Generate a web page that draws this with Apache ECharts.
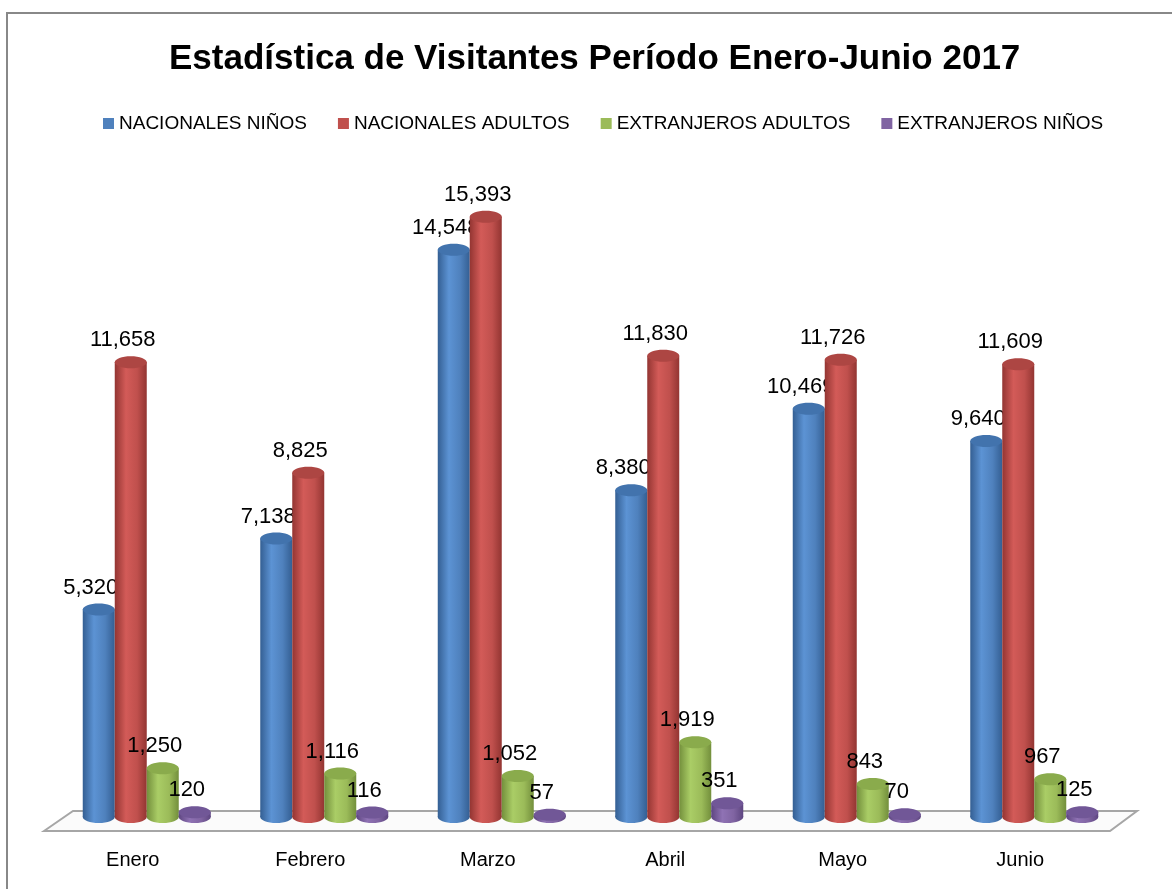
<!DOCTYPE html>
<html>
<head>
<meta charset="utf-8">
<script src="https://cdn.jsdelivr.net/npm/echarts@6/dist/echarts.min.js"></script>
<style>
  html, body { margin: 0; padding: 0; background: #fff; }
  #chart { width: 1172px; height: 889px; }
</style>
</head>
<body>
<div id="chart"></div>
<script>
const months = ['Enero', 'Febrero', 'Marzo', 'Abril', 'Mayo', 'Junio'];
const nacionalesNinos = [5320, 7138, 14548, 8380, 10469, 9640];
const nacionalesAdultos = [11658, 8825, 15393, 11830, 11726, 11609];
const extranjerosAdultos = [1250, 1116, 1052, 1919, 843, 967];
const extranjerosNinos = [120, 116, 57, 351, 70, 125];

const seriesNames = ['NACIONALES NIÑOS', 'NACIONALES ADULTOS', 'EXTRANJEROS ADULTOS', 'EXTRANJEROS NIÑOS'];
const seriesData = [nacionalesNinos, nacionalesAdultos, extranjerosAdultos, extranjerosNinos];

// base, dark edge, light middle, cap
const palette = [
    ['#4f81bd', '#345f93', '#5c93d4', '#4273ad'],
    ['#c0504d', '#933532', '#d35b58', '#ad4643'],
    ['#9bbb59', '#738f3c', '#aacd66', '#8aab4c'],
    ['#8064a2', '#5e4681', '#8f72b4', '#715797'],
];

const fmt = new Intl.NumberFormat('en-US');
const fontFamily = '"Liberation Sans", Arial, sans-serif';
const labelFont = '22px ' + fontFamily;
const barW = 32;
const capRy = 6;

const makeRender = idx => (params, api) => {
    const cat = api.value(0);
    const val = api.value(1);
    const base = api.coord([cat, 0]);
    const top = api.coord([cat, val]);
    const cx = base[0] + (idx - 1.5) * barW;
    const c = palette[idx];
    const body = new echarts.graphic.LinearGradient(0, 0, 1, 0, [
        {offset: 0, color: c[1]},
        {offset: 0.35, color: c[2]},
        {offset: 0.7, color: c[0]},
        {offset: 1, color: c[1]},
    ]);
    return {
        type: 'group',
        children: [
            {
                type: 'ellipse',
                shape: {cx: cx, cy: base[1], rx: barW / 2, ry: capRy},
                style: {fill: body},
            },
            {
                type: 'rect',
                shape: {x: cx - barW / 2, y: top[1], width: barW, height: base[1] - top[1]},
                style: {fill: body},
            },
            {
                type: 'ellipse',
                shape: {cx: cx, cy: top[1], rx: barW / 2, ry: capRy},
                style: {fill: c[3]},
            },
            {
                type: 'text',
                style: {
                    text: fmt.format(val),
                    x: cx - 8,
                    y: top[1] - 22,
                    align: 'center',
                    verticalAlign: 'middle',
                    font: labelFont,
                    fill: '#000',
                },
            },
        ],
    };
};

const chart = echarts.init(document.getElementById('chart'));
chart.setOption({
    animation: false,
    color: palette.map(p => p[0]),
    title: {
        text: 'Estadística de Visitantes Período Enero-Junio 2017',
        left: 164,
        top: 37,
        textStyle: {
            fontFamily: fontFamily,
            fontWeight: 'bold',
            fontSize: 35,
            color: '#000',
        },
    },
    legend: {
        top: 109,
        left: 98,
        itemWidth: 11,
        itemHeight: 11,
        itemGap: 31,
        icon: 'rect',
        textStyle: {
            fontFamily: fontFamily,
            fontSize: 19,
            color: '#000',
        },
        data: seriesNames,
    },
    graphic: [
        {
            type: 'rect',
            z: -10,
            shape: {x: 7, y: 13, width: 1300, height: 1000},
            style: {fill: 'none', stroke: '#888', lineWidth: 2},
        },
        {
            type: 'polygon',
            z: -5,
            shape: {points: [[44, 831], [73, 811], [1137, 811], [1110, 831]]},
            style: {fill: '#fbfbfb', stroke: '#a6a6a6', lineWidth: 2},
        },
    ],
    grid: {
        left: 58,
        right: 49,
        top: 115,
        bottom: 72,
    },
    xAxis: {
        type: 'category',
        data: months,
        axisLine: {show: false},
        axisTick: {show: false},
        axisLabel: {
            margin: 33,
            padding: [0, 28, 0, 0],
            fontFamily: fontFamily,
            fontSize: 20,
            color: '#000',
        },
    },
    yAxis: {
        type: 'value',
        min: 0,
        max: 18000,
        show: false,
        splitLine: {show: false},
    },
    series: seriesNames.map((name, idx) => ({
        name: name,
        type: 'custom',
        renderItem: makeRender(idx),
        encode: {x: 0, y: 1},
        data: seriesData[idx].map((v, i) => [i, v]),
    })),
});
</script>
</body>
</html>
